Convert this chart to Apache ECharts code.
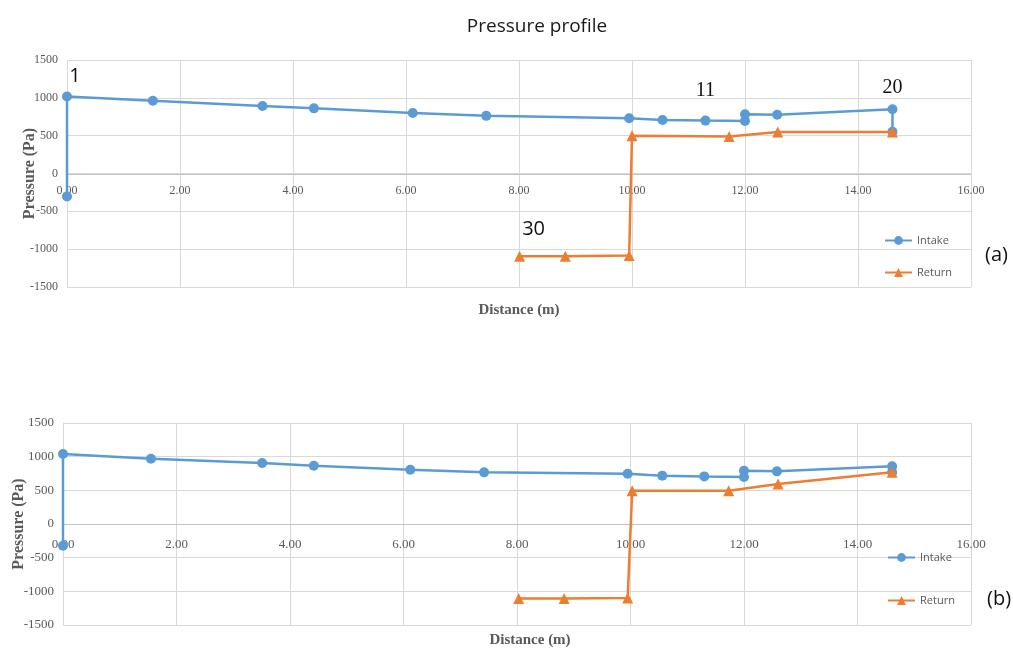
<!DOCTYPE html>
<html>
<head>
<meta charset="utf-8">
<script src="https://cdn.jsdelivr.net/npm/echarts@6/dist/echarts.min.js"></script>
<style>
  html, body { margin: 0; padding: 0; background: #fff; }
  #chart { width: 1013px; height: 652px; }
</style>
</head>
<body>
<div id="chart"></div>
<script>
// Case (a): pressure along the duct loop
const intakeDistA = [0, 0, 1.52, 3.46, 4.37, 6.12, 7.42, 9.95, 10.54, 11.30, 12.00, 12.00, 12.57, 14.61, 14.61];
const intakePresA = [-305, 1018, 961, 891, 861, 800, 762, 730, 708, 699, 695, 782, 777, 848, 552];
const returnDistA = [8.01, 8.82, 9.95, 10.00, 11.72, 12.58, 14.61];
const returnPresA = [-1092, -1092, -1083, 498, 490, 550, 548];

// Case (b)
const intakeDistB = [0, 0, 1.55, 3.51, 4.42, 6.12, 7.42, 9.95, 10.56, 11.30, 12.00, 12.00, 12.58, 14.61, 14.61];
const intakePresB = [-322, 1040, 970, 905, 866, 805, 767, 747, 718, 707, 698, 792, 782, 856, 767];
const returnDistB = [8.03, 8.83, 9.95, 10.03, 11.73, 12.60, 14.61];
const returnPresB = [-1105, -1105, -1100, 495, 495, 594, 767];

// Node numbers written next to points of case (a)
const nodeTexts   = ['1', '11', '20', '30'];
const nodeSeries  = ['intake', 'intake', 'intake', 'return'];
const nodeIndex   = [1, 9, 13, 0];
const nodeSerif   = [false, true, true, false];
const nodeOffsets = [[8, 0], [0, -10], [0, -2], [14, -6]];

const xTicks = { min: 0, max: 16, interval: 2 };
const yTicks = { min: -1500, max: 1500, interval: 500 };

const BLUE = '#5B9BD5';
const ORANGE = '#ED7D31';
const AXIS_TEXT = '#595959';
const GRID_LINE = '#d9d9d9';
const SERIF = '"Liberation Serif", "DejaVu Serif", serif';
const SANS = '"Open Sans", "Noto Sans", sans-serif';

function pairs(xs, ys, kind, annotate) {
  return xs.map(function (x, i) {
    const item = { value: [x, ys[i]] };
    if (annotate) {
      for (let k = 0; k < nodeTexts.length; k++) {
        if (nodeSeries[k] === kind && nodeIndex[k] === i) {
          item.label = {
            show: true,
            position: 'top',
            offset: nodeOffsets[k],
            formatter: nodeTexts[k],
            fontFamily: nodeSerif[k] ? SERIF : SANS,
            fontSize: 20,
            color: '#111'
          };
        }
      }
    }
    return item;
  });
}

// Distance axis is lifted onto the zero-pressure line; its title hangs below the plot
function valueXAxis(grid, lift, labelSize, labelMargin, nameGap, namePad) {
  return {
    type: 'value', gridIndex: grid, position: 'bottom', offset: -lift,
    min: xTicks.min, max: xTicks.max, interval: xTicks.interval,
    axisLine: { show: true, onZero: false, lineStyle: { color: '#c4c4c4', width: 1 } },
    axisTick: { show: false },
    axisLabel: {
      color: AXIS_TEXT, fontFamily: SERIF, fontSize: labelSize, margin: labelMargin,
      formatter: function (v) { return v.toFixed(2); }
    },
    splitLine: { show: true, lineStyle: { color: GRID_LINE, width: 1 } },
    name: 'Distance (m)', nameLocation: 'middle', nameGap: nameGap, nameMoveOverlap: false,
    nameTextStyle: { color: AXIS_TEXT, fontFamily: SERIF, fontSize: 15, fontWeight: 'bold', padding: namePad }
  };
}

function valueYAxis(grid, labelSize, gap) {
  return {
    type: 'value', gridIndex: grid,
    min: yTicks.min, max: yTicks.max, interval: yTicks.interval,
    axisLine: { show: true, onZero: false, lineStyle: { color: GRID_LINE } },
    axisTick: { show: false },
    axisLabel: {
      color: AXIS_TEXT, fontFamily: SERIF, fontSize: labelSize, margin: 9,
      formatter: function (v) { return String(v); }
    },
    splitLine: { show: true, lineStyle: { color: GRID_LINE, width: 1 } },
    name: 'Pressure (Pa)', nameLocation: 'middle', nameGap: gap, nameRotate: 90, nameMoveOverlap: false,
    nameTextStyle: { color: AXIS_TEXT, fontFamily: SERIF, fontSize: 16, fontWeight: 'bold' }
  };
}

function lineSeries(name, color, symbol, size, data, axisIdx) {
  return {
    name: name, type: 'line', xAxisIndex: axisIdx, yAxisIndex: axisIdx,
    data: data, symbol: symbol, symbolSize: size, showAllSymbol: true,
    lineStyle: { color: color, width: 2.5 },
    itemStyle: { color: color },
    emphasis: { disabled: true },
    animation: false, z: name === 'Return' ? 3 : 2
  };
}

const legendBase = {
  data: ['Intake', 'Return'], orient: 'vertical',
  itemWidth: 27, itemHeight: 11,
  textStyle: { color: AXIS_TEXT, fontFamily: SANS, fontSize: 11 },
  selectedMode: false
};

const chart = echarts.init(document.getElementById('chart'), null, { renderer: 'canvas' });
chart.setOption({
  backgroundColor: '#ffffff',
  animation: false,
  title: {
    text: 'Pressure profile', left: 532, top: 12, textAlign: 'center',
    textStyle: { fontFamily: SANS, fontSize: 19, fontWeight: 'normal', color: '#1a1a1a' }
  },
  legend: [
    Object.assign({}, legendBase, { left: 879, top: 230, itemGap: 21 }),
    Object.assign({}, legendBase, { left: 882, top: 547, itemGap: 32 })
  ],
  grid: [
    { left: 67, top: 60, width: 904, height: 227, containLabel: false, outerBoundsMode: 'none' },
    { left: 63, top: 423, width: 908, height: 202, containLabel: false, outerBoundsMode: 'none' }
  ],
  xAxis: [
    valueXAxis(0, 113, 12, 11, 129, 0),
    valueXAxis(1, 101, 13, 14, 109, [0, 0, 0, 26])
  ],
  yAxis: [
    valueYAxis(0, 12, 29),
    valueYAxis(1, 13, 36)
  ],
  series: [
    lineSeries('Intake', BLUE, 'circle', 10, pairs(intakeDistA, intakePresA, 'intake', true), 0),
    lineSeries('Return', ORANGE, 'triangle', 11, pairs(returnDistA, returnPresA, 'return', true), 0),
    lineSeries('Intake', BLUE, 'circle', 10, pairs(intakeDistB, intakePresB, 'intake', false), 1),
    lineSeries('Return', ORANGE, 'triangle', 11, pairs(returnDistB, returnPresB, 'return', false), 1)
  ],
  graphic: [
    { type: 'text', left: 985, top: 245, style: { text: '(a)', font: '20px ' + SANS, fill: '#111' } },
    { type: 'text', left: 987, top: 589, style: { text: '(b)', font: '20px ' + SANS, fill: '#111' } }
  ]
});
</script>
</body>
</html>
